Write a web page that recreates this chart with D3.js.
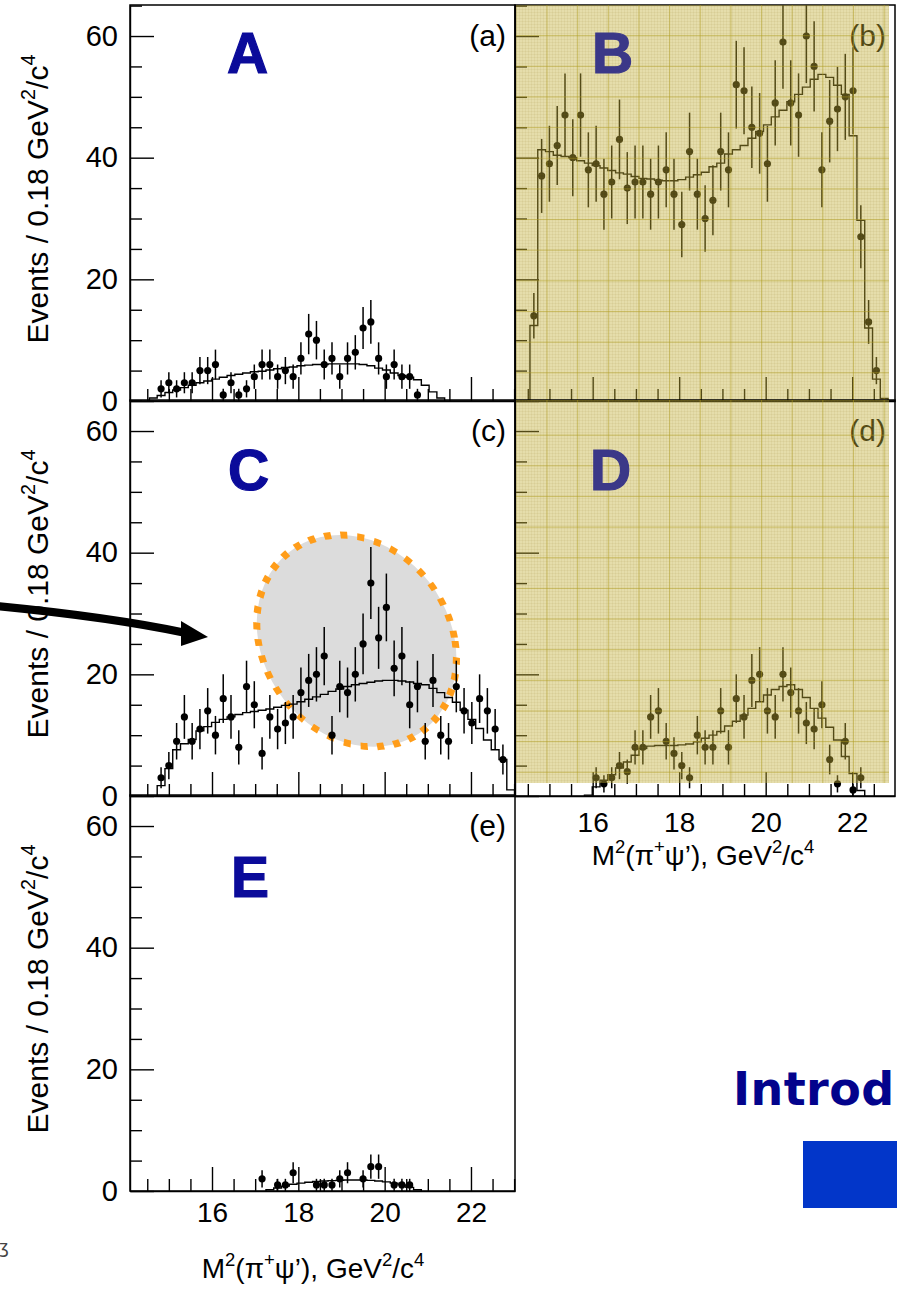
<!DOCTYPE html>
<html>
<head>
<meta charset="utf-8">
<script src="https://cdn.jsdelivr.net/npm/d3@7"></script>
<style>
  html, body { margin: 0; padding: 0; background: #fff; }
  svg { display: block; }
</style>
</head>
<body>
<svg id="chart" width="897" height="1289"></svg>
<script>
// ---- binning: M^2(pi+ psi') histograms, 0.18 GeV^2/c^4 per bin ----
const binFirstCenter = 14.64;
const binWidth = 0.18;

// ---- tick values ----
const yTickMajor = [0, 20, 40, 60];
const xTickMajor = [16, 18, 20, 22];

// ---- panel (a) ----
const countsAStart = 1;
const countsA = [2, 3, 2, 3, 3, 5, 5, 6, 1, 3, 1, 2, 4, 6, 6, 4, 5, 4, 7, 11,
                 10, 6, 7, 4, 7, 8, 12, 13, 7, 4, 6, 4, 4, 1];
const fitAStart = 0;
const fitA = [0.5, 0.9, 1.4, 1.8, 2.2, 2.6, 3.0, 3.3, 3.6, 3.9, 4.2, 4.4, 4.6, 4.8,
              4.9, 5.1, 5.3, 5.5, 5.6, 5.8, 5.9, 6.0, 6.0, 6.1, 6.1, 6.1, 6.1, 6.0,
              5.8, 5.4, 5.1, 4.6, 4.2, 3.9, 3.5, 2.6, 1.5, 0.5];

// ---- panel (b) ----
const countsBStart = 0;
const countsB = [14, 37, 39, 42, 47, 40, 47, 38, 39, 34, 36, 43, 35, 36, 36, 34,
                 36, 38, 34, 29, 41, 34, 30, 33, 41, 38, 52, 51, 45, 44, 39, 49,
                 59, 49, 47, 60, 55, 38, 46, 48, 50, 51, 27, 13, 5];
const fitBStart = 0;
const fitB = [12.4, 41.3, 41.0, 40.4, 40.2, 40.0, 39.5, 39.1, 38.7, 38.3, 37.9,
              37.5, 37.3, 36.9, 36.6, 36.5, 36.3, 36.2, 36.2, 36.4, 36.8, 37.2,
              37.6, 38.5, 39.1, 40.6, 41.3, 42.0, 43.2, 44.3, 45.4, 46.7, 47.8,
              49.2, 50.4, 51.6, 52.9, 53.7, 53.2, 51.9, 50.4, 43.6, 29.7, 12.0,
              3.6, 0.4];

// ---- panel (c) ----
const countsCStart = 1;
const countsC = [3, 5, 9, 13, 9, 11, 14, 10, 16, 13, 8, 18, 15, 7, 13, 11, 12, 13,
                 17, 19, 20, 23, 10, 18, 17, 20, 25, 35, 26, 31, 21, 23, 15, 18,
                 9, 19, 10, 9, 18, 14, 12, 16, 14, 11, 6];
const fitCStart = 1;
const fitC = [1.7, 4.5, 7.6, 8.6, 9.3, 10.7, 11.4, 12.1, 12.6, 13.0, 13.4, 13.7,
              13.9, 14.1, 14.3, 14.6, 14.9, 15.1, 15.5, 15.9, 16.3, 16.7, 17.2,
              17.6, 18.0, 18.3, 18.5, 18.7, 18.9, 19.0, 19.0, 18.9, 18.75, 18.5,
              18.3, 17.7, 17.0, 16.2, 15.4, 14.1, 12.6, 11.1, 9.2, 7.6, 6.0, 1.0];

// ---- panel (d) ----
const countsDStart = 8;
const countsD = [3, 2, 3, 5, 4, 8, 8, 13, 14, 9, 7, 5, 3, 10, 8, 8, 14, 8, 16, 13,
                 19, 20, 14, 13, 20, 17, 14, 12, 11, 15, 6, 2, 9, 1, 3];
const fitDStart = 7;
const fitD = [0.15, 1.5, 2.6, 3.5, 4.6, 5.6, 6.7, 7.8, 8.2, 8.3, 8.3, 8.3, 8.4,
              8.55, 8.9, 9.5, 10.0, 10.6, 11.5, 12.3, 13.3, 14.4, 15.5, 16.6,
              17.5, 18.0, 18.3, 17.5, 16.2, 14.4, 12.8, 11.3, 9.2, 6.5, 3.7, 0.9];

// ---- panel (e) ---- (null = empty bin)
const countsEStart = 14;
const countsE = [2, null, 1, 1, 3, null, null, 1, 1, 1, 2, 3, null, 2, 4, 4,
                 null, 1, 1, 1];
const fitEStart = 15;
const fitE = [0.2, 0.5, 0.8, 1.1, 1.3, 1.45, 1.55, 1.65, 1.7, 1.75, 1.8, 1.8,
              1.8, 1.75, 1.65, 1.5, 1.3, 1.0, 0.6, 0.2];

// ---- layout ----
const FONT = '"Liberation Sans", Arial, Helvetica, sans-serif';
const PX_PER_EVENT = 6.083;
const LEFT_DOM = [14.1, 23.02];
const RIGHT_DOM = [14.204, 22.99];
const NAVY = '#0b0b9a';
const SLATE = '#3b3888';

const panels = [
  { key: 'a', px: [130, 515], py: [401, 5], dom: LEFT_DOM,
    counts: countsA, cStart: countsAStart, fit: fitA, fStart: fitAStart,
    letter: 'A', lx: 227, ly: 73, color: NAVY, yLabels: true },
  { key: 'b', px: [515, 895], py: [401, 5], dom: RIGHT_DOM,
    counts: countsB, cStart: countsBStart, fit: fitB, fStart: fitBStart,
    letter: 'B', lx: 592, ly: 73, color: SLATE, shade: { bottom: 401, off: 0 } },
  { key: 'c', px: [130, 515], py: [796, 400], dom: LEFT_DOM,
    counts: countsC, cStart: countsCStart, fit: fitC, fStart: fitCStart,
    letter: 'C', lx: 228, ly: 490, color: NAVY, yLabels: true, blob: true },
  { key: 'd', px: [515, 895], py: [796, 400], dom: RIGHT_DOM,
    counts: countsD, cStart: countsDStart, fit: fitD, fStart: fitDStart,
    letter: 'D', lx: 590, ly: 490, color: SLATE, shade: { bottom: 783, off: 4.5 },
    xLabels: { pad: 16, titleX: 703, titleY: 865 } },
  { key: 'e', px: [130, 515], py: [1191, 795], dom: LEFT_DOM,
    counts: countsE, cStart: countsEStart, fit: fitE, fStart: fitEStart,
    letter: 'E', lx: 231, ly: 897, color: NAVY, yLabels: true,
    xLabels: { pad: 11, titleX: 313, titleY: 1278 } }
];

const svg = d3.select('#chart');
svg.append('rect').attr('width', 897).attr('height', 1289).attr('fill', '#fff');
const defs = svg.append('defs');

// fine paper texture for the shaded panels
const tex = defs.append('pattern').attr('id', 'tex')
  .attr('width', 3).attr('height', 3).attr('patternUnits', 'userSpaceOnUse');
tex.append('rect').attr('width', 3).attr('height', 1).attr('fill', 'rgba(140,120,20,0.08)');
tex.append('rect').attr('width', 1).attr('height', 3).attr('fill', 'rgba(140,120,20,0.08)');

const binEdge = k => binFirstCenter - binWidth / 2 + binWidth * k;
const binCenter = k => binFirstCenter + binWidth * k;

// text with superscripts: parts = [[text, isSup], ...]
function richText(sel, parts, size) {
  const supDy = Math.round(size * 0.42);
  let raised = false;
  parts.forEach(([t, sup]) => {
    const ts = sel.append('tspan').text(t);
    if (sup) {
      ts.attr('font-size', size * 0.66).attr('dy', raised ? 0 : -supDy);
      raised = true;
    } else {
      ts.attr('font-size', size).attr('dy', raised ? supDy : 0);
      raised = false;
    }
  });
}

const yTitleParts = [['Events / 0.18 GeV', false], ['2', true], ['/c', false], ['4', true]];
const xTitleParts = [['M', false], ['2', true], ['(\u03c0', false], ['+', true],
                     ['\u03c8\u2019), GeV', false], ['2', true], ['/c', false], ['4', true]];

panels.forEach(p => {
  const x = d3.scaleLinear().domain(p.dom).range(p.px);
  const yMax = (p.py[0] - p.py[1]) / PX_PER_EVENT;
  const y = d3.scaleLinear().domain([0, yMax]).range(p.py);
  const g = svg.append('g').attr('class', 'panel-' + p.key);

  defs.append('clipPath').attr('id', 'clip-' + p.key)
    .append('rect')
    .attr('x', p.px[0]).attr('y', p.py[1])
    .attr('width', p.px[1] - p.px[0]).attr('height', p.py[0] - p.py[1]);

  const plot = g.append('g').attr('clip-path', `url(#clip-${p.key})`);

  // highlighted region in panel (c)
  if (p.blob) {
    const cx = x(19.35), cy = y(25.5);
    const rx = x(19.35 + 2.28) - cx, ry = y(0) - y(17.4);
    plot.append('ellipse')
      .attr('transform', `translate(${cx},${cy}) skewX(9)`)
      .attr('rx', rx).attr('ry', ry)
      .attr('fill', '#dcdcdc')
      .attr('stroke', '#ff9d1a').attr('stroke-width', 7)
      .attr('stroke-dasharray', '7 9.6');
  }

  // fitted histogram
  const pts = [{ e: binEdge(p.fStart), v: 0 }];
  p.fit.forEach((v, i) => pts.push({ e: binEdge(p.fStart + i), v }));
  const endE = binEdge(p.fStart + p.fit.length);
  pts.push({ e: endE, v: p.fit[p.fit.length - 1] }, { e: endE, v: 0 });
  plot.append('path').datum(pts)
    .attr('d', d3.line().x(d => x(d.e)).y(d => y(d.v)).curve(d3.curveStepAfter))
    .attr('fill', 'none').attr('stroke', '#000').attr('stroke-width', 1.4);

  // data points with Poisson errors
  const data = p.counts.map((n, i) => ({ c: binCenter(p.cStart + i), n }))
    .filter(d => d.n != null);
  plot.selectAll('line.err').data(data).join('line').attr('class', 'err')
    .attr('x1', d => x(d.c)).attr('x2', d => x(d.c))
    .attr('y1', d => y(d.n + Math.sqrt(d.n)))
    .attr('y2', d => y(Math.max(0, d.n - Math.sqrt(d.n))))
    .attr('stroke', '#000').attr('stroke-width', 1.5);
  plot.selectAll('circle.pt').data(data).join('circle').attr('class', 'pt')
    .attr('cx', d => x(d.c)).attr('cy', d => y(d.n))
    .attr('r', 3.6).attr('fill', '#000');

  // frame
  g.append('rect')
    .attr('x', p.px[0]).attr('y', p.py[1])
    .attr('width', p.px[1] - p.px[0]).attr('height', p.py[0] - p.py[1])
    .attr('fill', 'none').attr('stroke', '#000').attr('stroke-width', 1.5);

  // y axis
  const yMinor = d3.range(0, yMax, 5).filter(v => !yTickMajor.includes(v));
  const yMajAx = g.append('g').attr('transform', `translate(${p.px[0]},0)`)
    .call(d3.axisLeft(y).tickValues(yTickMajor).tickSizeInner(-24).tickSizeOuter(0)
      .tickPadding(12).tickFormat(p.yLabels ? d3.format('d') : () => ''));
  const yMinAx = g.append('g').attr('transform', `translate(${p.px[0]},0)`)
    .call(d3.axisLeft(y).tickValues(yMinor).tickSizeInner(-12).tickSizeOuter(0)
      .tickFormat(() => ''));
  yMinAx.select('.domain').remove();

  // x axis
  const xMinor = d3.range(14.5, p.dom[1], 0.5).filter(v => !xTickMajor.includes(v));
  const xMajAx = g.append('g').attr('transform', `translate(0,${p.py[0]})`)
    .call(d3.axisBottom(x).tickValues(xTickMajor).tickSizeInner(-24).tickSizeOuter(0)
      .tickPadding(p.xLabels ? p.xLabels.pad : 8)
      .tickFormat(p.xLabels ? d3.format('d') : () => ''));
  const xMinAx = g.append('g').attr('transform', `translate(0,${p.py[0]})`)
    .call(d3.axisBottom(x).tickValues(xMinor).tickSizeInner(-12).tickSizeOuter(0)
      .tickFormat(() => ''));
  xMinAx.select('.domain').remove();

  [yMajAx, yMinAx, xMajAx, xMinAx].forEach(a => {
    a.selectAll('line, path').attr('stroke', '#000').attr('stroke-width', 1.4);
  });
  yMajAx.selectAll('text').attr('font-family', FONT).attr('font-size', 29).attr('fill', '#000');
  xMajAx.selectAll('text').attr('font-family', FONT).attr('font-size', 28).attr('fill', '#000');

  // panel tag
  g.append('text')
    .attr('x', p.px[1] - 9).attr('y', p.py[1] + 41)
    .attr('text-anchor', 'end')
    .attr('font-family', FONT).attr('font-size', 30).attr('fill', '#000')
    .text(`(${p.key})`);

  // axis titles
  if (p.yLabels) {
    const t = g.append('text')
      .attr('transform', `translate(48,${(p.py[0] + p.py[1]) / 2 - 4}) rotate(-90)`)
      .attr('text-anchor', 'middle')
      .attr('font-family', FONT).attr('fill', '#000');
    richText(t, yTitleParts, 30);
  }
  if (p.xLabels) {
    const t = g.append('text')
      .attr('x', p.xLabels.titleX).attr('y', p.xLabels.titleY)
      .attr('text-anchor', 'middle')
      .attr('font-family', FONT).attr('fill', '#000');
    richText(t, xTitleParts, 28);
  }

  // tinted overlay on the right-hand panels
  if (p.shade) {
    const sx0 = p.px[0] + 1, sx1 = 889;
    const sy0 = p.py[1], sy1 = p.shade.bottom;
    const ov = g.append('g');
    ov.append('rect')
      .attr('x', sx0).attr('y', sy0).attr('width', sx1 - sx0).attr('height', sy1 - sy0)
      .attr('fill', 'rgba(192,174,55,0.42)');
    ov.append('rect')
      .attr('x', sx0).attr('y', sy0).attr('width', sx1 - sx0).attr('height', sy1 - sy0)
      .attr('fill', 'url(#tex)');
    const step = 30.65;
    ov.selectAll('line.gv').data(d3.range(sx0 + 31, sx1, step)).join('line')
      .attr('class', 'gv')
      .attr('x1', d => d).attr('x2', d => d).attr('y1', sy0).attr('y2', sy1)
      .attr('stroke', 'rgba(175,155,30,0.5)').attr('stroke-width', 1);
    ov.selectAll('line.gh').data(d3.range(sy0 + p.shade.off + step, sy1, step)).join('line')
      .attr('class', 'gh')
      .attr('x1', sx0).attr('x2', sx1).attr('y1', d => d).attr('y2', d => d)
      .attr('stroke', 'rgba(175,155,30,0.5)').attr('stroke-width', 1);
  }

  // big panel letter
  g.append('text')
    .attr('x', p.lx).attr('y', p.ly)
    .attr('font-family', FONT).attr('font-weight', 'bold')
    .attr('font-size', 57).attr('fill', p.color)
    .attr('stroke', p.color).attr('stroke-width', 1.2)
    .text(p.letter);
});

// arrow pointing into panel (c)
svg.append('path')
  .attr('d', 'M-4,606 Q110,617 186,633')
  .attr('fill', 'none').attr('stroke', '#000').attr('stroke-width', 8);
svg.append('path')
  .attr('d', 'M181,621 L208,637 L181,646 Z')
  .attr('fill', '#000');

// slide title fragment and accent box
svg.append('text')
  .attr('x', 733).attr('y', 1105)
  .attr('font-family', '"DejaVu Sans", Verdana, sans-serif')
  .attr('font-weight', 'bold').attr('font-size', 46)
  .attr('letter-spacing', 0.4)
  .attr('fill', '#03038c')
  .text('Introd');
svg.append('rect')
  .attr('x', 803).attr('y', 1141).attr('width', 94).attr('height', 67)
  .attr('fill', '#0236c9');

// logo fragment at lower left
svg.append('text')
  .attr('x', -1).attr('y', 1253)
  .attr('font-family', '"DejaVu Sans", sans-serif')
  .attr('font-size', 17).attr('fill', '#444')
  .text('\u0292');
</script>
</body>
</html>
